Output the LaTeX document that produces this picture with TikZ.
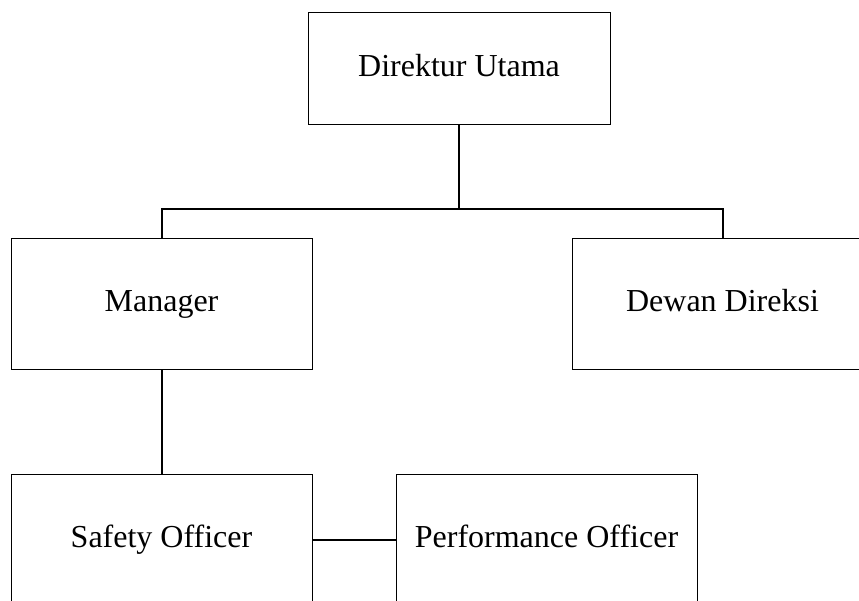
\documentclass[tikz,border=0pt]{standalone}
\usepackage{fontspec}
\setmainfont{Liberation Serif}
\usetikzlibrary{positioning}

\tikzset{
	unit/.style={draw, line width=1pt, minimum width=301pt, minimum height=131pt, inner sep=0pt, text height=22pt, text depth=6pt, font=\fontsize{32}{38}\selectfont},
	link/.style={line width=2pt}
}

\begin{document}
\begin{tikzpicture}[x=1pt, y=-1pt]
			\useasboundingbox (0,0) rectangle (859,600);
			\node[unit, minimum width=302pt, minimum height=112pt] (dir) at (459,68) {Direktur Utama};
			\node[unit] (man) at (161.5,303.5) {Manager};
			\node[unit, right=259pt of man] (dew) {Dewan Direksi};
			\node[unit, below=104pt of man] (saf) {Safety Officer};
			\node[unit, right=83pt of saf] (perf) {Performance Officer};
			\coordinate (bus) at (459,209);
			
			\draw[link] (dir.south) -- (bus);
			\draw[link] (man.north) |- (bus) -| (dew.north);
			\draw[link] (man.south) -- (saf.north);
			\draw[link] (saf.east) -- (perf.west);
	\end{tikzpicture}
\end{document}
